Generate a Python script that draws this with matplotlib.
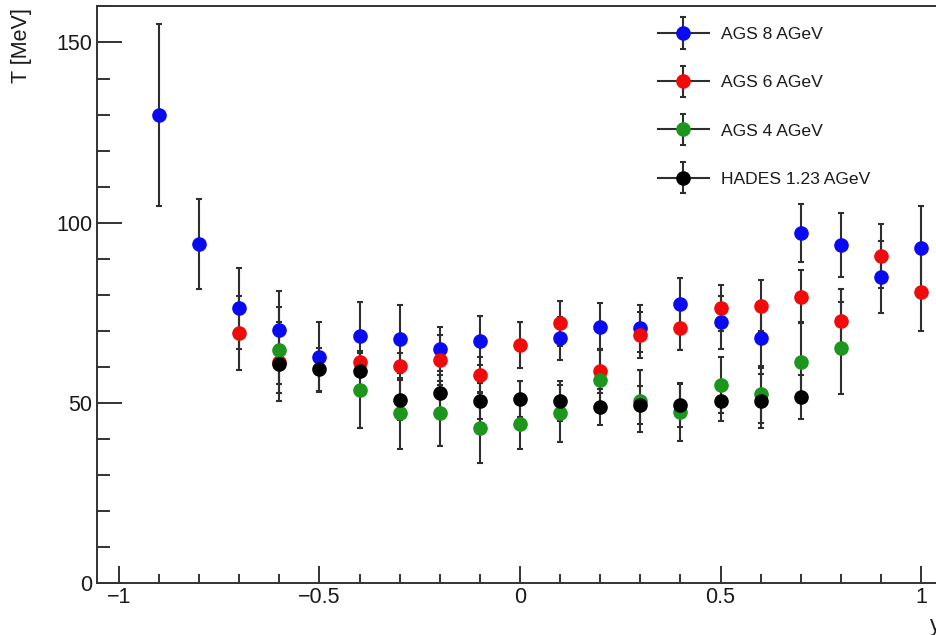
import numpy as np
import matplotlib
matplotlib.use('Agg')
import matplotlib.pyplot as plt
from matplotlib.container import ErrorbarContainer
from matplotlib.legend_handler import HandlerErrorbar
from matplotlib.ticker import MultipleLocator

plt.rcParams['font.family'] = ['Liberation Sans', 'DejaVu Sans']

# AGS 8 AGeV
y8 = [-0.9, -0.8, -0.7, -0.6, -0.5, -0.4, -0.3, -0.2, -0.1,
      0.1, 0.2, 0.3, 0.4, 0.5, 0.6, 0.7, 0.8, 0.9, 1.0]
t8 = [129.9, 94.2, 76.3, 70.2, 62.8, 68.7, 67.7, 65.0, 67.3,
      67.9, 71.2, 70.7, 77.6, 72.4, 67.9, 97.1, 93.8, 84.9, 92.9]
e8 = [25.2, 12.5, 11.2, 10.9, 9.7, 9.2, 9.5, 6.0, 6.8,
      6.0, 6.6, 6.5, 7.0, 7.4, 8.2, 8.0, 8.8, 10.0, 11.8]

# AGS 6 AGeV
y6 = [-0.7, -0.6, -0.4, -0.3, -0.2, -0.1, 0.0,
      0.1, 0.2, 0.3, 0.4, 0.5, 0.6, 0.7, 0.8, 0.9, 1.0]
t6 = [69.5, 61.5, 61.3, 60.3, 61.9, 57.8, 66.1,
      72.1, 58.9, 68.9, 70.7, 76.3, 77.0, 79.5, 72.8, 90.8, 80.7]
e6 = [10.3, 11.0, 3.0, 3.5, 7.0, 5.0, 6.3,
      6.2, 6.0, 6.4, 6.0, 6.4, 7.1, 7.3, 8.7, 8.8, 10.7]

# AGS 4 AGeV
y4 = [-0.6, -0.4, -0.3, -0.2, -0.1, 0.0, 0.1,
      0.2, 0.3, 0.4, 0.5, 0.6, 0.7, 0.8]
t4 = [64.7, 53.6, 47.1, 47.1, 43.2, 44.2, 47.1,
      56.4, 50.6, 47.6, 55.0, 52.4, 61.5, 65.3]
e4 = [12.0, 10.4, 9.9, 9.0, 9.8, 7.0, 8.0,
      8.5, 8.6, 8.0, 7.8, 8.0, 11.0, 12.7]

# HADES 1.23 AGeV
yh = [-0.6, -0.5, -0.4, -0.3, -0.2, -0.1, 0.0,
      0.1, 0.2, 0.3, 0.4, 0.5, 0.6, 0.7]
th = [60.7, 59.4, 59.0, 50.8, 52.7, 50.6, 51.1,
      50.6, 49.0, 49.4, 49.4, 50.6, 50.6, 51.7]
eh = [5.5, 6.0, 5.4, 5.5, 5.0, 5.0, 5.0,
      5.5, 5.0, 5.3, 6.0, 5.5, 7.5, 6.0]

series = [
    (y8, t8, e8, '#0a0af0', 'AGS 8 AGeV'),
    (y6, t6, e6, '#f00a0a', 'AGS 6 AGeV'),
    (y4, t4, e4, '#1c961c', 'AGS 4 AGeV'),
    (yh, th, eh, '#000000', 'HADES 1.23 AGeV'),
]

bar_col = '#2e2e2e'

fig = plt.figure(figsize=(9.36, 6.35), dpi=100)
ax = fig.add_axes([0.104, 0.0814, 0.9014, 0.9096])

handles = []
for xs, ys, es, col, lab in series:
    ax.errorbar(xs, ys, yerr=es, fmt='o', ms=9.5, mfc=col, mec=col,
                ecolor=bar_col, elinewidth=1.5, capsize=2, capthick=1.5)
    # proxy for ROOT-like legend entry (line + marker + vertical bar)
    h = ax.errorbar([np.nan], [np.nan], yerr=[1], fmt='-o', color=bar_col,
                    lw=1.5, ms=9.5, mfc=col, mec=col, ecolor=bar_col,
                    elinewidth=1.5, capsize=2.5, capthick=1.5, label=lab)
    handles.append(h)

ax.set_xlim(-1.054, 1.05)
ax.set_ylim(0, 160.2)

ax.xaxis.set_major_locator(MultipleLocator(0.5))
ax.xaxis.set_minor_locator(MultipleLocator(0.1))
ax.yaxis.set_major_locator(MultipleLocator(50))
ax.yaxis.set_minor_locator(MultipleLocator(10))

ax.xaxis.set_major_formatter(plt.FuncFormatter(lambda v, p: f'{v:g}'.replace('-', '\u2212')))

for s in ax.spines.values():
    s.set_color('#333333')
    s.set_linewidth(1.4)

ax.tick_params(axis='both', which='both', direction='in', colors='#333333',
               width=1.4, labelsize=15.5, labelcolor='#1a1a1a')
ax.tick_params(axis='x', which='major', length=12, pad=3)
ax.tick_params(axis='x', which='minor', length=6.5)
ax.tick_params(axis='y', which='major', length=18, pad=3.5)
ax.tick_params(axis='y', which='minor', length=9.4)
ax.tick_params(top=False, right=False, which='both')

ax.set_ylabel('T [MeV]', fontsize=15.5, loc='top', color='#1a1a1a')
ax.yaxis.set_label_coords(-0.077, 0.996)
ax.set_xlabel('y', fontsize=15.5, loc='right', color='#1a1a1a')
ax.xaxis.set_label_coords(1.0, -0.055)

leg = ax.legend(handles=handles, loc='upper left', frameon=False,
                bbox_to_anchor=(658 / 936, 1 - 27 / 635),
                bbox_transform=fig.transFigure,
                fontsize=12.6, handlelength=2.9, handletextpad=0.7,
                labelspacing=1.88, borderpad=0, borderaxespad=0,
                handler_map={ErrorbarContainer: HandlerErrorbar(yerr_size=0.9)})
for t in leg.get_texts():
    t.set_color('#1a1a1a')

fig.savefig('out.png', dpi=100)
